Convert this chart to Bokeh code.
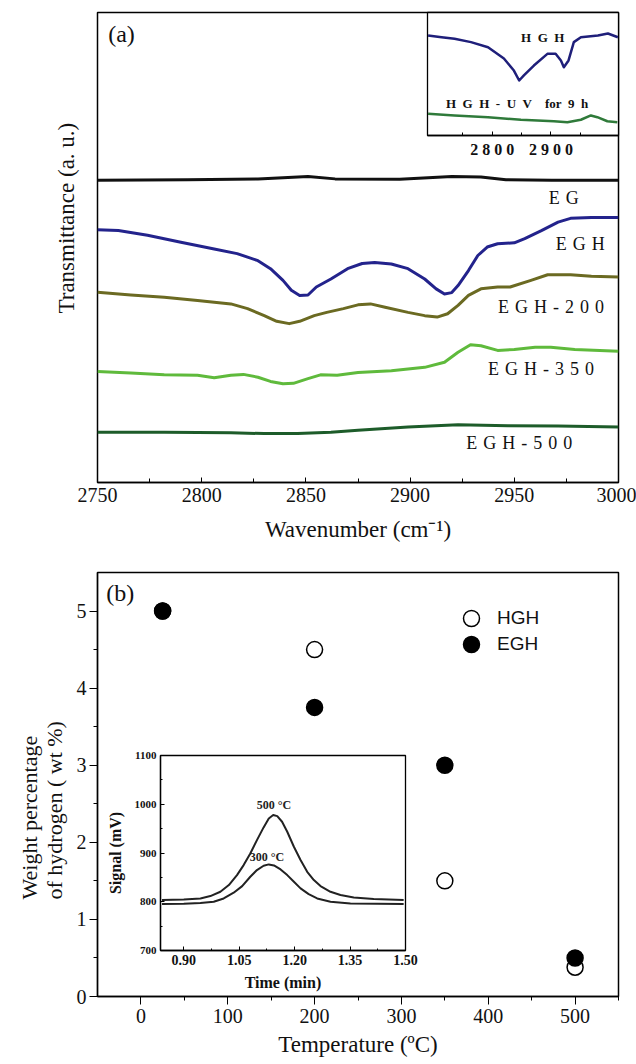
from bokeh.plotting import figure
from bokeh.models import (Range1d, FixedTicker, Legend, LegendItem, Title,
                          PrintfTickFormatter)
from bokeh.layouts import column
from bokeh.embed import file_html
from bokeh.resources import INLINE
from bokeh.core.properties import value

SERIF = "Liberation Serif"
SANS = "Liberation Sans"

# ---------------- Panel (a): FTIR spectra (arbitrary transmittance units) ----------------
wn_eg = [2750, 2793, 2827, 2851, 2864, 2895, 2920, 2934, 2946, 2968, 2980, 3000]
t_eg = [64.3, 64.4, 64.6, 65.1, 64.6, 64.5, 65.1, 65.0, 64.4, 64.3, 64.3, 64.3]

wn_egh = [2750, 2760, 2774, 2790, 2806, 2817, 2827, 2833, 2839, 2843, 2847, 2851, 2855,
          2862, 2870, 2877, 2883, 2891, 2899, 2907, 2912.5, 2916.5, 2920, 2923, 2928,
          2932.5, 2937, 2942, 2950, 2955, 2963, 2971, 2977, 2987, 3000]
t_egh = [53.8, 53.6, 52.6, 51.1, 49.7, 48.7, 47.2, 45.5, 43.0, 40.9, 39.8, 39.9, 41.6,
         43.3, 45.5, 46.6, 46.8, 46.5, 45.5, 43.3, 41.2, 40.1, 40.4, 41.9, 45.1,
         48.3, 50.1, 50.8, 51.0, 51.9, 53.6, 55.4, 56.2, 56.4, 56.4]

wn_200 = [2750, 2766, 2782, 2798, 2814, 2822, 2830, 2836, 2842, 2847, 2854, 2860, 2868,
          2875, 2881, 2888, 2899, 2907, 2913, 2918, 2923, 2928, 2934, 2942, 2948, 2958,
          2966, 2977, 2987, 3000]
t_200 = [40.5, 39.9, 39.4, 38.7, 38.0, 37.0, 35.5, 34.3, 33.8, 34.3, 35.5, 36.2, 37.0,
         37.8, 38.0, 37.3, 36.2, 35.5, 35.2, 35.9, 37.7, 39.8, 41.2, 41.6, 41.6, 43.0,
         44.2, 44.2, 43.9, 43.7]

wn_350 = [2750, 2766, 2782, 2798, 2806, 2814, 2820, 2827, 2833, 2839, 2844, 2851, 2857,
          2865, 2875, 2891, 2907, 2916.5, 2923, 2929, 2934, 2942, 2950, 2960, 2967.5,
          2979, 3000]
t_350 = [23.6, 23.3, 22.9, 22.8, 22.3, 22.8, 23.0, 22.4, 21.5, 21.0, 21.1, 22.1, 22.9,
         22.8, 23.4, 23.8, 24.5, 25.6, 27.7, 29.3, 29.1, 28.1, 28.3, 28.8, 28.8,
         28.3, 27.9]

wn_500 = [2750, 2782, 2814, 2830, 2846, 2862, 2875, 2899, 2923, 2947, 2971, 3000]
t_500 = [10.7, 10.7, 10.6, 10.4, 10.4, 10.7, 11.1, 11.8, 12.3, 12.1, 12.0, 11.8]

SEP = "\u2004"
series_names = [SEP.join("EG"), SEP.join("EGH"), SEP.join("EGH-200"),
                SEP.join("EGH-350"), SEP.join("EGH-500")]
series_colors = ["#111111", "#23238c", "#6b6a22", "#5fba3c", "#1d5c2a"]

a_ticks = [2750, 2800, 2850, 2900, 2950, 3000]
a_minor = [2775, 2825, 2875, 2925, 2975]

# inset (a)
wn_hgh = [2691, 2714, 2736, 2764, 2793, 2820, 2837, 2846, 2854, 2871, 2894, 2908, 2917,
          2922, 2930, 2939, 2951, 2980, 2997, 3014]
t_hgh = [81.3, 79.9, 78.6, 75.9, 71.8, 62.6, 52.8, 44.7, 48.8, 56.9, 66.4, 66.4, 61.0,
         55.5, 61.0, 75.9, 79.9, 81.3, 82.9, 79.9]
wn_uv = [2691, 2736, 2793, 2849, 2905, 2928, 2951, 2968, 2979, 2996, 3013]
t_uv = [17.6, 16.3, 14.9, 12.8, 11.6, 10.8, 12.8, 16.3, 14.9, 11.6, 10.8]
ia_ticks = [2800, 2900]
ia_minor = [2750, 2850, 2950]

# ---------------- Panel (b) ----------------
temp = [25, 200, 350, 500]
hgh_wt = [5.0, 4.5, 1.5, 0.38]
egh_wt = [5.0, 3.75, 3.0, 0.5]
b_xticks = [0, 100, 200, 300, 400, 500]
b_xminor = [50, 150, 250, 350, 450, 550]
b_yticks = [0, 1, 2, 3, 4, 5]
b_yminor = [0.5, 1.5, 2.5, 3.5, 4.5]

# inset (b)
time_500 = [0.841, 0.900, 0.945, 0.972, 0.999, 1.022, 1.044, 1.062, 1.080, 1.098, 1.116,
            1.130, 1.142, 1.153, 1.166, 1.180, 1.198, 1.216, 1.234, 1.252, 1.270, 1.297,
            1.324, 1.360, 1.414, 1.495]
sig_500 = [803.4, 804.8, 806.8, 811.6, 820.5, 834.2, 854.7, 875.2, 899.1, 926.5, 952.5,
           970.9, 977.8, 975.7, 964.1, 943.6, 912.8, 885.5, 861.5, 844.4, 832.1, 820.5,
           813.7, 808.9, 805.5, 803.4]
time_300 = [0.841, 0.900, 0.945, 0.981, 1.008, 1.035, 1.058, 1.080, 1.098, 1.116, 1.130,
            1.144, 1.162, 1.180, 1.198, 1.216, 1.238, 1.261, 1.297, 1.351, 1.495]
sig_300 = [795.2, 795.9, 797.3, 800.0, 806.8, 818.5, 832.1, 851.3, 865.0, 873.8, 876.6,
           874.5, 866.3, 854.7, 841.0, 827.4, 815.7, 806.8, 800.0, 796.6, 795.2]
ib_xticks = [0.90, 1.05, 1.20, 1.35, 1.50]
ib_xminor = [0.975, 1.125, 1.275, 1.425]
ib_yticks = [700, 800, 900, 1000, 1100]
ib_yminor = [750, 850, 950, 1050]


def style_axis(ax, label_size, title_size=None, bold=False):
    ax.axis_line_color = "black"
    ax.axis_line_width = 1.3
    ax.major_tick_line_color = "black"
    ax.minor_tick_line_color = "black"
    ax.major_label_text_font = SERIF
    ax.major_label_text_font_size = label_size
    ax.major_label_text_color = "#111111"
    ax.major_label_text_font_style = "bold" if bold else "normal"
    ax.axis_label_text_font = SERIF
    ax.axis_label_text_font_style = "bold" if bold else "normal"
    ax.axis_label_text_color = "#111111"
    if title_size:
        ax.axis_label_text_font_size = title_size


def side_title(text, offset, standoff, size):
    return Title(text=text, align="left", vertical_align="bottom", offset=offset,
                 standoff=standoff, text_font=SERIF, text_font_size=size,
                 text_font_style="normal", text_color="#111111")


# ======== figure (a) ========
pa = figure(width=636, height=556, x_range=Range1d(2750, 3000), y_range=Range1d(0, 100),
            output_backend="svg", toolbar_location=None, y_axis_location=None,
            min_border_left=97, min_border_right=17, min_border_top=12, min_border_bottom=74)
pa.grid.visible = False
pa.outline_line_color = "black"
pa.outline_line_width = 1.5
style_axis(pa.xaxis[0], "20px", "23px")
pa.xaxis.ticker = FixedTicker(ticks=a_ticks, minor_ticks=a_minor)
pa.xaxis.major_tick_in = 5
pa.xaxis.major_tick_out = 0
pa.xaxis.minor_tick_in = 4
pa.xaxis.minor_tick_out = 0
pa.xaxis.major_label_standoff = 5
pa.xaxis.axis_label = "Wavenumber (cm\u207b\u00b9)"
pa.xaxis.axis_label_standoff = 12
pa.add_layout(side_title("Transmittance (a. u.)", 169, 38, "23px"), "left")

for xs, ys, c in zip([wn_eg, wn_egh, wn_200, wn_350, wn_500],
                     [t_eg, t_egh, t_200, t_350, t_500], series_colors):
    pa.line(xs, ys, line_color=c, line_width=3, line_join="round")

lbl_x = [2973.7, 2981.6, 2967.6, 2962.8, 2952.4]
lbl_y = [60.6, 50.8, 37.3, 24.2, 8.5]
pa.text(x=lbl_x, y=lbl_y, text=series_names, text_font=value(SERIF), text_font_size="18px",
        text_align="center", text_baseline="middle", text_color="#111111")
pa.text(x=[2761.5], y=[95.5], text=["(a)"], text_font=value(SERIF), text_font_size="24px",
        text_align="center", text_baseline="middle", text_color="#111111")

# ======== inset (a) ========
ia = figure(width=212, height=160, x_range=Range1d(2690, 3015), y_range=Range1d(0, 100),
            output_backend="svg", toolbar_location=None, y_axis_location=None,
            min_border_left=3, min_border_right=18, min_border_top=2, min_border_bottom=35,
            border_fill_color=None, background_fill_color="white", frame_align=False)
ia.grid.visible = False
ia.outline_line_color = "black"
ia.outline_line_width = 1.3
style_axis(ia.xaxis[0], "16px", bold=True)
ia.xaxis.ticker = FixedTicker(ticks=ia_ticks, minor_ticks=ia_minor)
ia.xaxis.major_label_overrides = {t: "\u2005".join(str(t)) for t in ia_ticks}
ia.xaxis.major_tick_in = 4
ia.xaxis.major_tick_out = 0
ia.xaxis.minor_tick_in = 3
ia.xaxis.minor_tick_out = 0
ia.xaxis.major_label_standoff = 5
ia.line(wn_hgh, t_hgh, line_color="#1f1f7a", line_width=2.5, line_join="round")
ia.line(wn_uv, t_uv, line_color="#2f7a3a", line_width=2.5, line_join="round")
ia.text(x=[2886, 2842.5], y=[79.7, 26.0],
        text=["H\u2002G\u2002H", "H\u2002G\u2002H\u2002-\u2002U\u2002V\u2002\u2002for\u20029\u2002h"],
        text_font=value(SERIF), text_font_size="13px", text_font_style="bold",
        text_align="center", text_baseline="middle", text_color="#111111")

# ======== figure (b) ========
pb = figure(width=636, height=508, x_range=Range1d(-50, 550), y_range=Range1d(0, 5.5),
            output_backend="svg", toolbar_location=None,
            min_border_left=96, min_border_right=16, min_border_top=16, min_border_bottom=68)
pb.grid.visible = False
pb.outline_line_color = "black"
pb.outline_line_width = 1.5
style_axis(pb.xaxis[0], "20px", "23px")
style_axis(pb.yaxis[0], "20px")
pb.xaxis.ticker = FixedTicker(ticks=b_xticks, minor_ticks=b_xminor)
pb.yaxis.ticker = FixedTicker(ticks=b_yticks, minor_ticks=b_yminor)
for ax in (pb.xaxis[0], pb.yaxis[0]):
    ax.major_tick_in = 0
    ax.major_tick_out = 8
    ax.minor_tick_in = 0
    ax.minor_tick_out = 4
    ax.major_label_standoff = 4
pb.yaxis.major_label_standoff = 3
pb.xaxis.axis_label = "Temperature (\u00baC)"
pb.xaxis.axis_label_standoff = 6
pb.add_layout(side_title("Weight percentage\nof hydrogen ( wt %)", 97, 14, "22px"), "left")

r_hgh = pb.scatter(temp, hgh_wt, marker="circle", size=16, fill_color="white",
                   line_color="black", line_width=1.5)
r_egh = pb.scatter(temp, egh_wt, marker="circle", size=16, fill_color="black",
                   line_color="black", line_width=1.5)
for lab, rend, loc in (("HGH", r_hgh, (354, 358)), ("EGH", r_egh, (354, 332))):
    pb.add_layout(Legend(items=[LegendItem(label=lab, renderers=[rend])],
                         location=loc, glyph_width=40, glyph_height=40,
                         label_standoff=6, padding=0, margin=0, border_line_color=None,
                         background_fill_alpha=0, label_text_font=SANS,
                         label_text_font_size="19px", label_text_color="#111111"))
pb.text(x=[-23.7], y=[5.24], text=["(b)"], text_font=value(SERIF), text_font_size="24px",
        text_align="center", text_baseline="middle", text_color="#111111")

# ======== inset (b) ========
ib = figure(width=320, height=255, x_range=Range1d(0.837, 1.5), y_range=Range1d(700, 1100),
            output_backend="svg", toolbar_location=None,
            min_border_left=60, min_border_right=15, min_border_top=10, min_border_bottom=50,
            border_fill_color=None, background_fill_color="white", frame_align=False)
ib.grid.visible = False
ib.outline_line_color = "black"
ib.outline_line_width = 1.3
style_axis(ib.xaxis[0], "14px", "16px", bold=True)
style_axis(ib.yaxis[0], "11px", "16px", bold=True)
ib.xaxis.ticker = FixedTicker(ticks=ib_xticks, minor_ticks=ib_xminor)
ib.xaxis.formatter = PrintfTickFormatter(format="%.2f")
ib.yaxis.ticker = FixedTicker(ticks=ib_yticks, minor_ticks=ib_yminor)
for ax in (ib.xaxis[0], ib.yaxis[0]):
    ax.major_tick_in = 4
    ax.major_tick_out = 0
    ax.minor_tick_in = 2
    ax.minor_tick_out = 0
    ax.major_label_standoff = 4
ib.xaxis.axis_label = "Time (min)"
ib.xaxis.axis_label_standoff = 6
ib.yaxis.axis_label = "Signal (mV)"
ib.yaxis.axis_label_standoff = 8
ib.line(time_500, sig_500, line_color="#222222", line_width=2, line_join="round")
ib.line(time_300, sig_300, line_color="#222222", line_width=2, line_join="round")
ib.text(x=[1.144, 1.125], y=[998, 891], text=["500 \u00b0C", "300 \u00b0C"],
        text_font=value(SERIF), text_font_size="12px", text_font_style="bold",
        text_align="center", text_baseline="middle", text_color="#222222")

ia.styles = {"position": "absolute", "left": "424px", "top": "10px"}
ib.styles = {"position": "absolute", "left": "100px", "top": "745px"}
root = column(pa, pb, ia, ib, styles={"position": "relative"})

open("out.html", "w").write(file_html(root, INLINE, title="FTIR and hydrogen content"))
